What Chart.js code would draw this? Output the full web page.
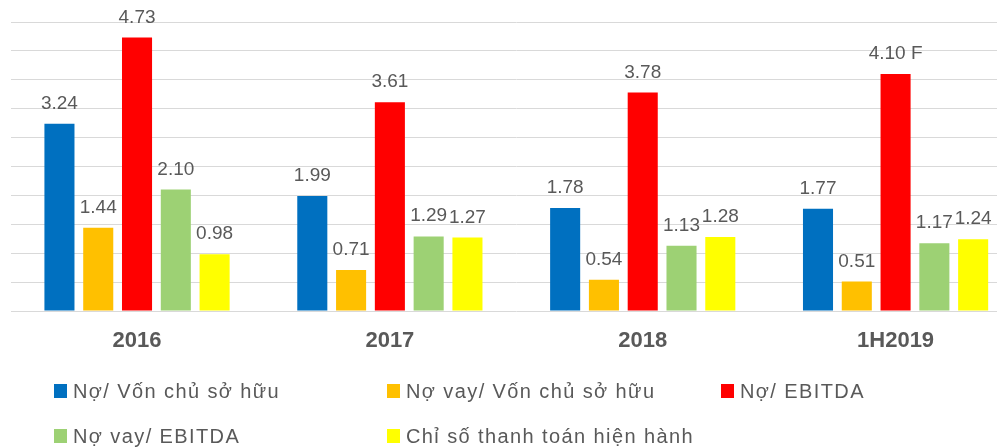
<!DOCTYPE html>
<html>
<head>
<meta charset="utf-8">
<script src="https://cdn.jsdelivr.net/npm/chart.js@4"></script>
<style>
  html, body { margin: 0; padding: 0; background: #fff; overflow: hidden; }
  #wrap { position: relative; width: 997px; height: 447px; overflow: hidden; }
  #box { position: absolute; left: 0; top: 0; width: 1022px; height: 377px; }
  #legend { position: absolute; left: 0; top: 0; width: 997px; height: 447px; pointer-events: none; }
  .item { position: absolute; display: flex; align-items: center; height: 26px;
          font-family: "Liberation Sans", "DejaVu Sans", sans-serif; font-size: 20px;
          letter-spacing: 1.4px; color: #595959; white-space: nowrap; }
  .item span.box { width: 13px; height: 14px; margin-right: 6px; display: inline-block; }
</style>
</head>
<body>
<div id="wrap">
  <div id="box"><canvas id="chart"></canvas></div>
  <div id="legend"></div>
</div>
<script>
const categories = ['2016', '2017', '2018', '1H2019'];

const seriesNames = [
  'Nợ/ Vốn chủ sở hữu',
  'Nợ vay/ Vốn chủ sở hữu',
  'Nợ/ EBITDA',
  'Nợ vay/ EBITDA',
  'Chỉ số thanh toán hiện hành'
];

const debtToEquity      = [3.24, 1.99, 1.78, 1.77];
const loanToEquity      = [1.44, 0.71, 0.54, 0.51];
const debtToEbitda      = [4.73, 3.61, 3.78, 4.10];
const loanToEbitda      = [2.10, 1.29, 1.13, 1.17];
const currentRatio      = [0.98, 1.27, 1.28, 1.24];

// extra marks written after some labels in the source (e.g. "4.10 F")
const debtToEbitdaNotes = ['', '', '', ' F'];

const colors = ['#0070C0', '#FFC000', '#FF0000', '#9DD174', '#FFFF00'];

const allValues = [debtToEquity, loanToEquity, debtToEbitda, loanToEbitda, currentRatio];
const allNotes  = [null, null, debtToEbitdaNotes, null, null];

const datasets = allValues.map((vals, i) => ({
  label: seriesNames[i],
  data: vals,
  backgroundColor: colors[i],
  borderWidth: 0,
  categoryPercentage: 0.767,
  barPercentage: 0.775
}));

// value labels above each bar
const valueLabels = {
  id: 'valueLabels',
  afterDatasetsDraw(chart) {
    const ctx = chart.ctx;
    ctx.save();
    ctx.font = '19px "Liberation Sans", "DejaVu Sans", sans-serif';
    ctx.fillStyle = '#595959';
    ctx.textAlign = 'center';
    ctx.textBaseline = 'alphabetic';
    chart.data.datasets.forEach((ds, i) => {
      const meta = chart.getDatasetMeta(i);
      meta.data.forEach((bar, j) => {
        let txt = ds.data[j].toFixed(2);
        if (allNotes[i]) txt += allNotes[i][j];
        ctx.fillText(txt, bar.x, bar.y - 15);
      });
    });
    ctx.restore();
  }
};

const chart = new Chart(document.getElementById('chart'), {
  type: 'bar',
  data: { labels: categories, datasets: datasets },
  options: {
    responsive: true,
    maintainAspectRatio: false,
    animation: false,
    events: [],
    layout: { padding: { left: 10.6, right: 0, top: 22, bottom: 5.6 } },
    plugins: {
      legend: { display: false },
      tooltip: { enabled: false }
    },
    scales: {
      x: {
        grid: { display: false, drawTicks: false },
        border: { display: false },
        ticks: {
          color: '#595959',
          padding: 17,
          font: { family: '"Liberation Sans", "DejaVu Sans", sans-serif', size: 22, weight: 'bold' }
        }
      },
      y: {
        min: 0,
        max: 5,
        ticks: { display: false, stepSize: 0.5 },
        grid: { color: '#D9D9D9', lineWidth: 1, drawTicks: false },
        border: { display: false }
      }
    }
  },
  plugins: [valueLabels]
});

// legend laid out in three columns, two rows, like the source
const legendEl = document.getElementById('legend');
const colLeft = [54, 387, 721];
const rowMid = [391, 436];
datasets.forEach((ds, i) => {
  const item = document.createElement('div');
  item.className = 'item';
  item.style.left = colLeft[i % 3] + 'px';
  item.style.top = (rowMid[Math.floor(i / 3)] - 13) + 'px';
  const box = document.createElement('span');
  box.className = 'box';
  box.style.background = ds.backgroundColor;
  const txt = document.createElement('span');
  txt.textContent = ds.label;
  item.appendChild(box);
  item.appendChild(txt);
  legendEl.appendChild(item);
});
</script>
</body>
</html>
